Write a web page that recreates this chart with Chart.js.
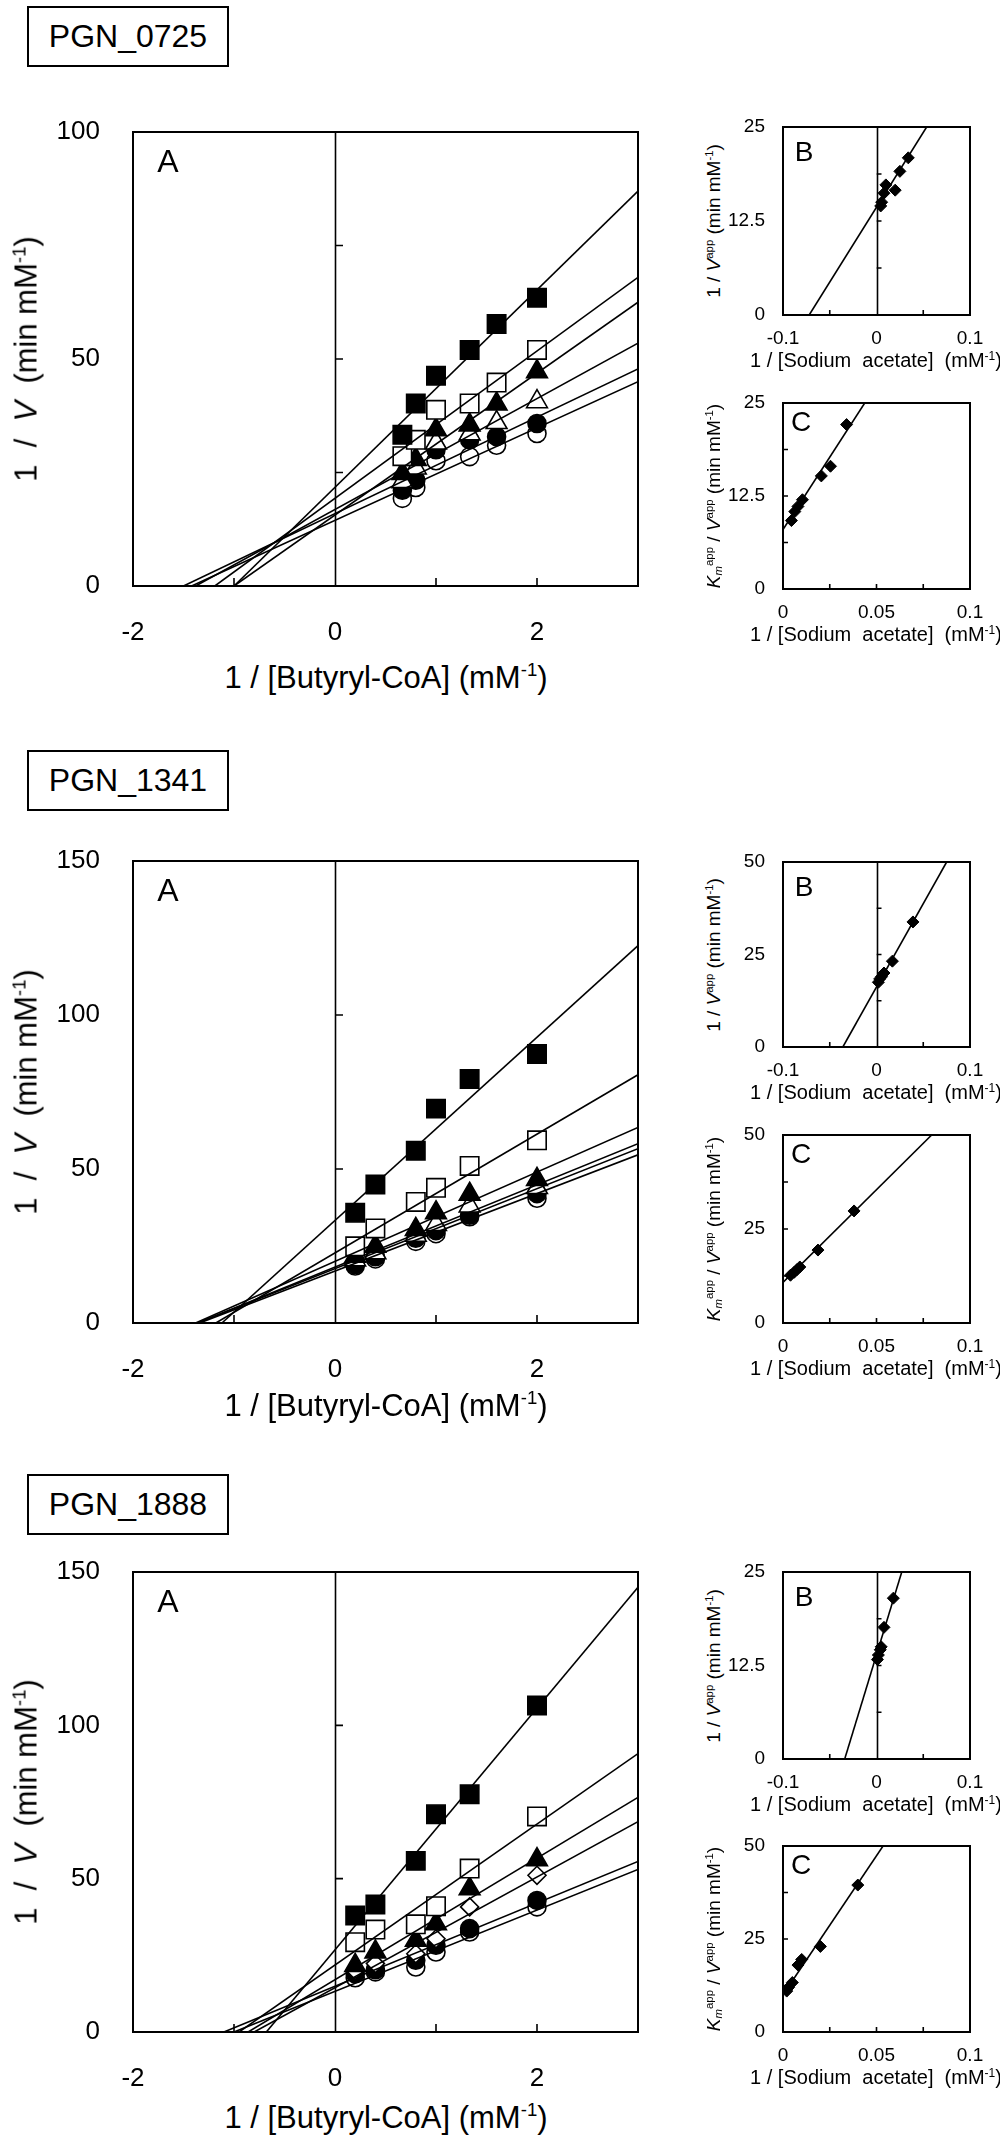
<!DOCTYPE html>
<html>
<head>
<meta charset="utf-8">
<title>Lineweaver-Burk plots PGN_0725 / PGN_1341 / PGN_1888</title>
<script src="https://cdn.jsdelivr.net/npm/chart.js@4.4.1/dist/chart.umd.min.js"></script>
<style>
  html, body { margin: 0; padding: 0; background: #fff; }
  #fig { position: relative; width: 1000px; height: 2135px; overflow: hidden;
         font-family: "Liberation Sans", Arial, Helvetica, sans-serif; color: #000; }
  .plot { position: absolute; }
  .gene { position: absolute; box-sizing: border-box; border: 2px solid #000; font-size: 32px;
          display: flex; align-items: center; justify-content: center; }
  .txt { position: absolute; white-space: nowrap; line-height: 1; transform: translate(-50%, -50%); z-index: 2; }
  .txt.rot { transform: translate(-50%, -50%) rotate(-90deg); }
  sup { font-size: 0.6em; vertical-align: 0.6em; line-height: 0; }
  sub { font-size: 0.6em; vertical-align: -0.25em; line-height: 0; }
</style>
</head>
<body>
<div id="fig"></div>
<script>
// ---- PGN_0725 ----
const xA_0725 = [0.667, 0.8, 1.0, 1.333, 1.6, 2.0];
const a0725_filledSquare = [33.3, 40.2, 46.3, 52.0, 57.7, 63.5];
const a0725_openSquare = [28.6, 32.2, 38.8, 40.2, 44.8, 52.0];
const a0725_filledTriangle = [24.8, 27.9, 34.4, 35.5, 40.1, 47.2];
const a0725_openTriangle = [23.0, 26.0, 31.5, 33.5, 36.0, 40.6];
const a0725_filledCircle = [21.1, 23.3, 30.0, 32.2, 32.9, 35.8];
const a0725_openCircle = [19.3, 21.7, 27.6, 28.5, 31.0, 33.6];
// fitted lines: x where each line meets y = 0, and y where it meets x = 3
const a0725_lineStartX = [-1.0, -1.19, -1.0, -1.38, -1.5, -1.42];
const a0725_lineEndY = [87.0, 68.0, 62.5, 53.5, 47.8, 45.0];
const bX_0725 = [0.0045, 0.0055, 0.008, 0.01, 0.02, 0.025, 0.034];
const bY_0725 = [14.5, 15.0, 16.2, 17.3, 16.6, 19.1, 20.9];
const bLine_0725 = [[-0.072, 0], [0.0536, 25]];
const cX_0725 = [0.0045, 0.0063, 0.008, 0.0104, 0.0205, 0.0254, 0.034];
const cY_0725 = [9.2, 10.4, 11.1, 12.0, 15.2, 16.5, 22.1];
const cLine_0725 = [[0, 8.0], [0.0437, 25]];

// ---- PGN_1341 ----
const xA_1341 = [0.2, 0.4, 0.8, 1.0, 1.333, 2.0];
const a1341_filledSquare = [35.8, 45.0, 55.9, 69.6, 79.2, 87.3];
const a1341_openSquare = [24.9, 30.7, 39.3, 43.9, 51.0, 59.3];
const a1341_filledTriangle = [21.7, 24.9, 30.4, 35.8, 41.8, 46.6];
const a1341_openTriangle = [20.5, 22.8, 28.5, 32.0, 38.0, 44.0];
const a1341_filledCircle = [19.0, 21.5, 27.5, 30.0, 35.0, 42.0];
const a1341_openCircle = [18.5, 20.8, 26.5, 29.0, 34.5, 40.5];
const a1341_lineStartX = [-1.12, -1.18, -1.38, -1.36, -1.36, -1.34];
const a1341_lineEndY = [122.5, 80.6, 63.5, 58.2, 56.6, 54.6];
const bX_1341 = [0.002, 0.0034, 0.0054, 0.008, 0.017, 0.039];
const bY_1341 = [17.5, 18.4, 19.0, 20.0, 23.2, 33.8];
const bLine_1341 = [[-0.036, 0], [0.075, 50]];
const cX_1341 = [0.004, 0.006, 0.0075, 0.009, 0.0187, 0.038];
const cY_1341 = [12.7, 13.5, 14.2, 14.9, 19.4, 29.8];
const cLine_1341 = [[0, 10.8], [0.0795, 50]];

// ---- PGN_1888 ----
const xA_1888 = [0.2, 0.4, 0.8, 1.0, 1.333, 2.0];
const a1888_filledSquare = [38.0, 41.6, 55.8, 71.0, 77.5, 106.5];
const a1888_openSquare = [29.3, 33.4, 35.1, 41.0, 53.3, 70.3];
const a1888_filledTriangle = [21.7, 26.1, 29.9, 35.3, 46.7, 56.2];
const a1888_openDiamond = [20.0, 22.3, 25.5, 30.4, 40.8, 51.1];
const a1888_filledCircle = [19.0, 20.3, 23.4, 28.3, 33.7, 42.9];
const a1888_openCircle = [17.7, 19.6, 21.2, 26.1, 32.6, 40.8];
const a1888_lineStartX = [-0.68, -0.95, -0.86, -0.80, -1.1, -1.0];
const a1888_lineEndY = [145.0, 90.8, 76.5, 68.6, 55.6, 53.0];
const bX_1888 = [0.001, 0.002, 0.004, 0.005, 0.008, 0.018];
const bY_1888 = [13.3, 13.9, 14.6, 15.0, 17.6, 21.5];
const bLine_1888 = [[-0.034, 0], [0.027, 25]];
const cX_1888 = [0.002, 0.003, 0.005, 0.008, 0.01, 0.02, 0.04];
const cY_1888 = [11.0, 12.0, 13.3, 18.0, 19.5, 23.0, 39.5];
const cLine_1888 = [[0, 10.0], [0.0535, 50]];

// ---- tick labels and small tick marks ----
const ticksA_x = [-2, 0, 2];
const ticksA_y100 = [0, 50, 100];
const ticksA_y150 = [0, 50, 100, 150];
const ticksB_x = [-0.1, 0, 0.1];
const ticksC_x = [0, 0.05, 0.1];
const ticks_y25 = [0, 12.5, 25];
const ticks_y50 = [0, 25, 50];
const marksA_x = [-1, 1, 2];
const marksA_y100 = [25, 50, 75];
const marksA_y150 = [50, 100];
const marksB_x = [-0.05, 0.05];
const marksC_x = [0.025, 0.05, 0.075];
const marks_y25 = [6.25, 12.5, 18.75];
const marks_y50 = [12.5, 25, 37.5];

const FONT = '"Liberation Sans", Arial, Helvetica, sans-serif';
Chart.defaults.font.family = FONT;
const fig = document.getElementById('fig');

const sq = { style: 'rect', r: 13, fill: '#000' };
const osq = { style: 'rect', r: 13, fill: '#fff' };
const tri = { style: 'triangle', r: 12, fill: '#000' };
const otri = { style: 'triangle', r: 12, fill: '#fff' };
const odia = { style: 'rectRot', r: 9, fill: '#fff' };
const cir = { style: 'circle', r: 9, fill: '#000' };
const ocir = { style: 'circle', r: 9, fill: '#fff' };

// box frame, zero line and the little inward tick marks
const framePlugin = {
  id: 'frame',
  beforeDatasetsDraw(chart, args, o) {
    const { ctx, chartArea: a, scales: { x, y } } = chart;
    ctx.save();
    ctx.strokeStyle = '#000';
    ctx.lineWidth = 2;
    ctx.strokeRect(a.left, a.top, a.right - a.left, a.bottom - a.top);
    ctx.lineWidth = 1.6;
    ctx.beginPath();
    if (o.zeroLine) {
      const px = Math.round(x.getPixelForValue(0)) + 0.5;
      ctx.moveTo(px, a.top);
      ctx.lineTo(px, a.bottom);
    }
    const mx = x.getPixelForValue(o.yMarkAt);
    o.yMarks.forEach(v => {
      const py = y.getPixelForValue(v);
      ctx.moveTo(mx, py);
      ctx.lineTo(mx + o.len, py);
    });
    o.xMarks.forEach(v => {
      const px = x.getPixelForValue(v);
      ctx.moveTo(px, a.bottom);
      ctx.lineTo(px, a.bottom - o.len);
    });
    ctx.stroke();
    ctx.restore();
  }
};

function addText(html, x, y, size, rotate) {
  const d = document.createElement('div');
  d.className = 'txt' + (rotate ? ' rot' : '');
  d.style.left = x + 'px';
  d.style.top = y + 'px';
  d.style.fontSize = size + 'px';
  d.innerHTML = html;
  fig.appendChild(d);
}

function addGeneBox(name, top) {
  const d = document.createElement('div');
  d.className = 'gene';
  Object.assign(d.style, { left: '27px', top: top + 'px', width: '202px', height: '61px' });
  d.textContent = name;
  fig.appendChild(d);
}

// the canvas is sized so that the chart area lands exactly on rect;
// top/right padding is generous because Chart.js reserves label half-height + tick padding there
function plotChart(rect, o) {
  const pt = 60, pr = 45;
  const w = rect.w + o.yw + pr, h = rect.h + pt + o.xh;
  const holder = document.createElement('div');
  holder.className = 'plot';
  Object.assign(holder.style, {
    left: (rect.l - o.yw) + 'px', top: (rect.t - pt) + 'px', width: w + 'px', height: h + 'px'
  });
  const cv = document.createElement('canvas');
  cv.width = w;
  cv.height = h;
  cv.style.width = w + 'px';
  cv.style.height = h + 'px';
  holder.appendChild(cv);
  fig.appendChild(holder);
  const tickFont = { family: FONT, size: o.fontSize };
  new Chart(cv, {
    type: 'scatter',
    data: { datasets: o.datasets },
    options: {
      responsive: false,
      animation: false,
      events: [],
      layout: { padding: { top: pt, right: pr, left: 0, bottom: 0 } },
      plugins: { legend: { display: false }, tooltip: { enabled: false }, frame: o.frame },
      scales: {
        x: {
          type: 'linear', min: o.xMin, max: o.xMax,
          grid: { display: false, drawTicks: false }, border: { display: false },
          afterBuildTicks: s => { s.ticks = o.xLabels.map(v => ({ value: v })); },
          afterFit: s => { s.height = o.xh; },
          ticks: { font: tickFont, color: '#000', padding: o.xPad, autoSkip: false, maxRotation: 0,
                   callback: v => String(v) }
        },
        y: {
          type: 'linear', min: 0, max: o.yMax,
          grid: { display: false, drawTicks: false }, border: { display: false },
          afterBuildTicks: s => { s.ticks = o.yLabels.map(v => ({ value: v })); },
          afterFit: s => { s.width = o.yw; },
          ticks: { font: tickFont, color: '#000', padding: o.yPad, autoSkip: false,
                   callback: v => String(v) }
        }
      }
    },
    plugins: [framePlugin]
  });
}

function lbDatasets(xs, series, shapes, startX, endY) {
  const lines = startX.map((sx, i) => ({
    data: [{ x: sx, y: 0 }, { x: 3, y: endY[i] }],
    showLine: true, borderColor: '#000', borderWidth: 1.6, pointRadius: 0, tension: 0, order: 0
  }));
  const pts = series.map((ys, i) => ({
    data: ys.map((v, j) => ({ x: xs[j], y: v })),
    pointStyle: shapes[i].style, pointRadius: shapes[i].r, backgroundColor: shapes[i].fill,
    borderColor: '#000', borderWidth: 1.6, order: 1
  }));
  return lines.concat(pts);
}

function smallDatasets(xs, ys, line) {
  return [
    { data: line.map(p => ({ x: p[0], y: p[1] })), showLine: true, borderColor: '#000',
      borderWidth: 1.6, pointRadius: 0, order: 0 },
    { data: ys.map((v, j) => ({ x: xs[j], y: v })), pointStyle: 'rectRot', pointRadius: 6,
      backgroundColor: '#000', borderColor: '#000', borderWidth: 1, order: 1 }
  ];
}

const panels = [
  { name: 'PGN_0725', boxTop: 6, A: { t: 132, h: 454 }, B: { t: 127, h: 188 }, C: { t: 403, h: 186 }, xGap: 91,
    a: lbDatasets(xA_0725, [a0725_filledSquare, a0725_openSquare, a0725_filledTriangle, a0725_openTriangle,
      a0725_filledCircle, a0725_openCircle], [sq, osq, tri, otri, cir, ocir], a0725_lineStartX, a0725_lineEndY),
    aMax: 100, aLabels: ticksA_y100, aMarks: marksA_y100,
    b: smallDatasets(bX_0725, bY_0725, bLine_0725), bMax: 25, bLabels: ticks_y25, bMarks: marks_y25,
    c: smallDatasets(cX_0725, cY_0725, cLine_0725), cMax: 25, cLabels: ticks_y25, cMarks: marks_y25 },
  { name: 'PGN_1341', boxTop: 750, A: { t: 861, h: 462 }, B: { t: 862, h: 185 }, C: { t: 1135, h: 188 }, xGap: 82,
    a: lbDatasets(xA_1341, [a1341_filledSquare, a1341_openSquare, a1341_filledTriangle, a1341_openTriangle,
      a1341_filledCircle, a1341_openCircle], [sq, osq, tri, otri, cir, ocir], a1341_lineStartX, a1341_lineEndY),
    aMax: 150, aLabels: ticksA_y150, aMarks: marksA_y150,
    b: smallDatasets(bX_1341, bY_1341, bLine_1341), bMax: 50, bLabels: ticks_y50, bMarks: marks_y50,
    c: smallDatasets(cX_1341, cY_1341, cLine_1341), cMax: 50, cLabels: ticks_y50, cMarks: marks_y50 },
  { name: 'PGN_1888', boxTop: 1474, A: { t: 1572, h: 460 }, B: { t: 1572, h: 187 }, C: { t: 1846, h: 186 }, xGap: 85,
    a: lbDatasets(xA_1888, [a1888_filledSquare, a1888_openSquare, a1888_filledTriangle, a1888_openDiamond,
      a1888_filledCircle, a1888_openCircle], [sq, osq, tri, odia, cir, ocir], a1888_lineStartX, a1888_lineEndY),
    aMax: 150, aLabels: ticksA_y150, aMarks: marksA_y150,
    b: smallDatasets(bX_1888, bY_1888, bLine_1888), bMax: 25, bLabels: ticks_y25, bMarks: marks_y25,
    c: smallDatasets(cX_1888, cY_1888, cLine_1888), cMax: 50, cLabels: ticks_y50, cMarks: marks_y50 }
];

const unitHtml = '(mM<sup>-1</sup>)';
panels.forEach(p => {
  addGeneBox(p.name, p.boxTop);

  const A = { l: 133, w: 505, t: p.A.t, h: p.A.h };
  plotChart(A, {
    datasets: p.a, xMin: -2, xMax: 3, yMax: p.aMax, xLabels: ticksA_x, yLabels: p.aLabels,
    fontSize: 26, yw: 110, xh: 66, yPad: 33, xPad: 31,
    frame: { zeroLine: true, yMarkAt: 0, yMarks: p.aMarks, xMarks: marksA_x, len: 8 }
  });
  addText('A', 168, A.t + 29, 32);
  addText('1&nbsp; /&nbsp; <i>V</i>&nbsp; (min mM<sup>-1</sup>)', 26, A.t + A.h / 2, 31, true);
  addText('1 / [Butyryl-CoA] ' + unitHtml, 386, A.t + A.h + p.xGap, 31);

  const B = { l: 783, w: 187, t: p.B.t, h: p.B.h };
  plotChart(B, {
    datasets: p.b, xMin: -0.1, xMax: 0.1, yMax: p.bMax, xLabels: ticksB_x, yLabels: p.bLabels,
    fontSize: 19, yw: 56, xh: 38, yPad: 18, xPad: 12,
    frame: { zeroLine: true, yMarkAt: 0, yMarks: p.bMarks, xMarks: marksB_x, len: 5 }
  });
  addText('B', 804, B.t + 25, 28);
  addText('1 / <i>V</i><sup>app</sup> (min mM<sup>-1</sup>)', 713, B.t + B.h / 2, 19, true);
  addText('1 / [Sodium&nbsp; acetate]&nbsp; ' + unitHtml, 876, B.t + B.h + 45, 20);

  const C = { l: 783, w: 187, t: p.C.t, h: p.C.h };
  plotChart(C, {
    datasets: p.c, xMin: 0, xMax: 0.1, yMax: p.cMax, xLabels: ticksC_x, yLabels: p.cLabels,
    fontSize: 19, yw: 56, xh: 38, yPad: 18, xPad: 12,
    frame: { zeroLine: false, yMarkAt: 0, yMarks: p.cMarks, xMarks: marksC_x, len: 5 }
  });
  addText('C', 801, C.t + 19, 28);
  addText('<i>K<sub>m</sub></i><sup>app</sup> / <i>V</i><sup>app</sup> (min mM<sup>-1</sup>)', 713, C.t + C.h / 2, 19, true);
  addText('1 / [Sodium&nbsp; acetate]&nbsp; ' + unitHtml, 876, C.t + C.h + 45, 20);
});
</script>
</body>
</html>
